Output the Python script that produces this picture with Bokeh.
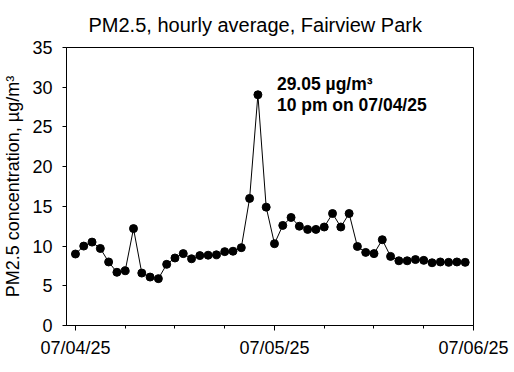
import pandas as pd
from bokeh.plotting import figure
from bokeh.models import FixedTicker, DatetimeTickFormatter, Range1d, Label, ColumnDataSource
from bokeh.embed import file_html
from bokeh.resources import INLINE

# ---- data ----
start_time = "2025-07-04 00:00"
pm25 = [9.0, 10.0, 10.5, 9.7, 8.0, 6.7, 6.9, 12.2, 6.6, 6.1, 5.9, 7.7,
        8.5, 9.05, 8.4, 8.8, 8.85, 8.9, 9.3, 9.35, 9.8, 16.0, 29.05, 14.9,
        10.3, 12.6, 13.6, 12.5, 12.1, 12.1, 12.4, 14.1, 12.4, 14.1, 9.95, 9.2,
        9.05, 10.8, 8.7, 8.15, 8.15, 8.3, 8.2, 7.9, 8.0, 7.95, 8.0, 7.95]
major_dates = ["2025-07-04", "2025-07-05", "2025-07-06"]
y_ticks = [0, 5, 10, 15, 20, 25, 30, 35]
title_text = "PM2.5, hourly average, Fairview Park"
y_label = "PM2.5 concentration, µg/m³"

times = pd.date_range(start_time, periods=len(pm25), freq="h")
src = ColumnDataSource(dict(t=times, v=pm25))

def ms(ts):
    return pd.Timestamp(ts).value / 1e6

FONT = "Liberation Sans"

x_start = ms(major_dates[0]) - 1.08 * 3600e3
x_end = ms(major_dates[-1])

p = figure(width=512, height=370, x_axis_type="datetime",
           x_range=Range1d(x_start, x_end), y_range=Range1d(0, 35),
           output_backend="svg", toolbar_location=None,
           min_border_left=65, min_border_right=39, min_border_top=40,
           min_border_bottom=45)

p.title.text = title_text
p.title.align = "left"
p.title.offset = 22
p.title.text_font = FONT
p.title.text_font_size = "20px"
p.title.text_font_style = "normal"
p.title.text_color = "black"
p.title.text_line_height = 0.8
p.title.standoff = 23

p.line("t", "v", source=src, line_color="black", line_width=1)
p.scatter("t", "v", source=src, size=8, fill_color="black", line_color="black")

# peak annotation
i_peak = max(range(len(pm25)), key=lambda i: pm25[i])
peak_t = times[i_peak]
peak_v = pm25[i_peak]
hour12 = peak_t.hour % 12 or 12
ampm = "pm" if peak_t.hour >= 12 else "am"
line1 = f"{peak_v:.2f} µg/m³"
line2 = f"{hour12} {ampm} on {peak_t.strftime('%m/%d/%y')}"
for txt, yoff in [(line1, 10.5), (line2, -10.5)]:
    p.add_layout(Label(x=ms(peak_t), y=peak_v, x_offset=19, y_offset=yoff, text=txt,
                       text_font=FONT, text_font_size="17.5px", text_font_style="bold",
                       text_baseline="middle", text_align="left", text_color="black"))

# axes
minor = []
for d in major_dates[:-1]:
    for h in (6, 12, 18):
        minor.append(ms(d) + h * 3600e3)
p.xaxis.ticker = FixedTicker(ticks=[ms(d) for d in major_dates], minor_ticks=minor)
fmt = "%m/%d/%y"
p.xaxis.formatter = DatetimeTickFormatter(milliseconds=fmt, seconds=fmt, minsec=fmt, minutes=fmt,
                                          hourmin=fmt, hours=fmt, days=fmt, months=fmt, years=fmt)
p.yaxis.ticker = FixedTicker(ticks=y_ticks)
p.yaxis.axis_label = y_label

for ax in (p.xaxis, p.yaxis):
    ax.axis_line_color = "black"
    ax.major_tick_line_color = "black"
    ax.major_tick_in = 0
    ax.minor_tick_in = 0
    ax.major_label_text_font = FONT
    ax.major_label_text_font_size = "18px"
    ax.major_label_text_color = "black"
    ax.axis_label_text_font = FONT
    ax.axis_label_text_font_size = "18px"
    ax.axis_label_text_font_style = "normal"
    ax.axis_label_text_color = "black"

p.xaxis.major_tick_out = 5
p.xaxis.minor_tick_out = 3
p.xaxis.minor_tick_line_color = "black"
p.xaxis.major_label_standoff = 7
p.yaxis.major_tick_out = 4
p.yaxis.minor_tick_line_color = None
p.yaxis.major_label_standoff = 10
p.yaxis.axis_label_standoff = 6

p.xgrid.grid_line_color = None
p.ygrid.grid_line_color = None
p.outline_line_color = "black"
p.outline_line_alpha = 1
p.background_fill_color = "white"
p.border_fill_color = "white"

open("out.html", "w").write(file_html(p, INLINE))
